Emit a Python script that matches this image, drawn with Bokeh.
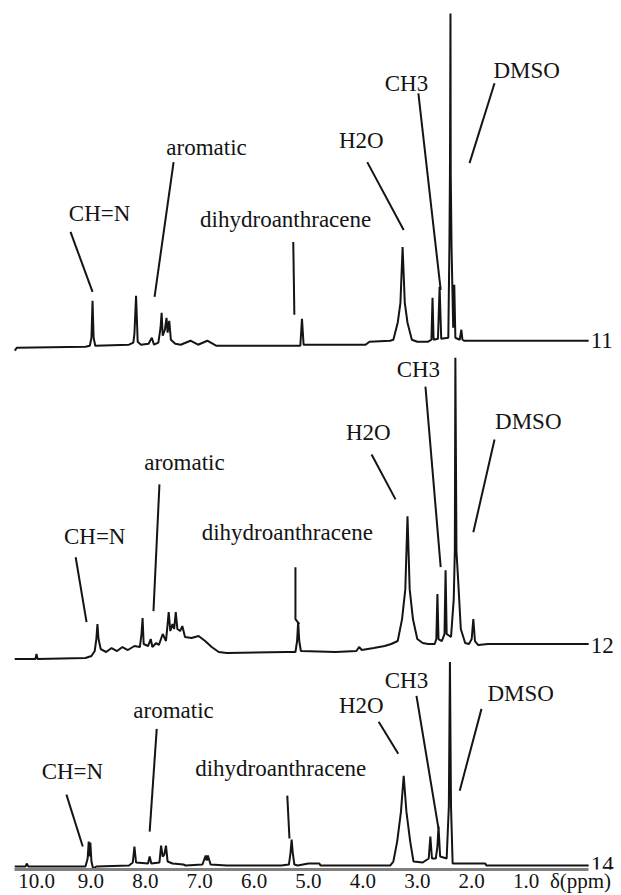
from bokeh.plotting import figure
from bokeh.models import Range1d, FixedTicker, CustomJSTickFormatter, Label
from bokeh.embed import file_html
from bokeh.resources import INLINE
from bokeh.core.properties import value

# ---------------- data (chemical shift in ppm, intensity in arbitrary units) -------------
# spectrum 11
ppm_11 = [10.40, 10.36, 9.10, 9.02, 8.99, 8.97, 8.95, 8.92, 8.30, 8.22, 8.20, 8.17, 8.14, 8.08,
          7.94, 7.88, 7.84, 7.76, 7.72, 7.70, 7.68, 7.64, 7.61, 7.59, 7.56, 7.53, 7.45, 7.35,
          7.17, 7.03, 6.86, 6.70, 6.43, 5.80, 5.15, 5.12, 5.09, 4.40, 3.95, 3.88, 3.50,
          3.44, 3.36, 3.31, 3.27, 3.23, 3.18, 3.10, 3.00, 2.80,
          2.74, 2.72, 2.70, 2.62, 2.59, 2.56, 2.43, 2.41, 2.40, 2.39, 2.385, 2.37, 2.34,
          2.32, 2.30, 2.22, 2.19, 2.17, 2.14, 2.05, -0.15]
int_11 = [-3, 0, 1, 2, 10, 47, 10, 2, 3, 5, 14, 52, 6, 3,
          4, 10, 3, 5, 20, 35, 12, 18, 30, 15, 27, 8, 4, 3,
          7, 3, 7, 2, 2, 2, 2, 29, 3, 3, 3, 6, 7,
          8, 25, 45, 101, 45, 25, 8, 6, 6,
          8, 50, 8, 9, 61, 9, 10, 100, 173, 335, 173, 100, 20,
          63, 10, 8, 18, 8, 7, 7, 7]

# spectrum 12
ppm_12 = [10.40, 10.02, 10.00, 9.98, 9.10, 8.99, 8.93, 8.90, 8.88, 8.86, 8.82, 8.72, 8.62,
          8.52, 8.42, 8.32, 8.20, 8.10, 8.07, 8.05, 8.03, 7.95, 7.90, 7.87, 7.80, 7.75,
          7.68, 7.62, 7.59, 7.57, 7.54, 7.50, 7.47, 7.44, 7.41, 7.36, 7.32, 7.27, 7.15,
          7.02, 6.90, 6.78, 6.65, 6.50, 5.40, 5.24, 5.21, 5.19, 5.17, 5.14, 4.50, 4.12,
          4.07, 4.02, 3.80, 3.60, 3.48, 3.36, 3.28, 3.22, 3.18, 3.14, 3.08, 3.00, 2.90,
          2.80, 2.68, 2.65, 2.63, 2.61, 2.55, 2.50, 2.48, 2.46, 2.38, 2.33, 2.31, 2.30,
          2.28, 2.25, 2.20, 2.12, 2.05, 2.00, 1.97, 1.94, 1.88, 1.70, 1.40, -0.15]
int_12 = [0, 0, 5, 0, 1, 3, 8, 20, 35, 20, 10, 7, 11,
          8, 12, 9, 13, 12, 25, 41, 15, 13, 20, 12, 16, 14,
          25, 18, 35, 47, 28, 35, 30, 47, 30, 28, 33, 22, 21,
          23, 18, 12, 7, 6, 7, 7, 18, 37, 18, 8, 7, 8,
          12, 9, 11, 13, 15, 18, 40, 70, 143, 70, 40, 20, 16,
          15, 15, 20, 65, 20, 18, 25, 89, 25, 22, 60, 108, 302,
          108, 80, 30, 16, 15, 20, 40, 18, 14, 15, 15, 15]

# spectrum 14
ppm_14 = [10.40, 10.20, 10.18, 10.15, 9.10, 9.06, 9.04, 9.02, 9.01, 8.99, 8.96, 8.90, 8.30,
          8.23, 8.20, 8.17, 7.95, 7.92, 7.89, 7.74, 7.71, 7.68, 7.65, 7.62, 7.59, 7.50,
          7.30, 7.26, 6.95, 6.89, 6.87, 6.85, 6.80, 6.50, 5.50, 5.36, 5.33, 5.31, 5.29,
          5.26, 5.20, 5.00, 4.80, 4.78, 3.50, 3.44, 3.37, 3.30, 3.25, 3.20, 3.13, 3.07,
          2.90, 2.79, 2.76, 2.73, 2.66, 2.63, 2.61, 2.58, 2.46, 2.42, 2.40, 2.38, 2.35,
          2.30, 1.75, 1.73, -0.15]
int_14 = [0, 0, 3, 0, 0, 8, 25, 10, 24, 5, -2, 0, 1,
          4, 20, 4, 3, 10, 3, 4, 21, 10, 12, 21, 5, 3,
          2, 1, 2, 11, 6, 11, 2, 1, 1, 2, 14, 27, 14,
          2, 1, 3, 3, 1, 1, 5, 25, 55, 91, 55, 25, 5,
          4, 8, 30, 8, 8, 20, 40, 10, 8, 60, 205, 60, 3,
          3, 3, 1, 1]

tick_ppm = [10.0, 9.0, 8.0, 7.0, 6.0, 5.0, 4.0, 3.0, 2.0, 1.0, 0.0]
peak_names = ["CH=N", "aromatic", "dihydroanthracene", "H2O", "CH3", "DMSO"]
sample_names = ["11", "12", "14"]

# ---------------- layout (positions / styles) ----------------
offsets = [523, 211, 3]
label_pos = [
    [(8.84, 658), (6.875, 724), (5.42, 651), (4.03, 731), (3.20, 788), (0.99, 801)],
    [(8.93, 334), (7.28, 408), (5.39, 338), (3.90, 438), (2.98, 501), (0.96, 449)],
    [(9.34, 98), (7.48, 159), (5.51, 101), (4.03, 164), (3.20, 189), (1.10, 176)],
]
leader_xs = [
    [[9.375, 8.97], [7.48, 7.83], [5.28, 5.26], [3.92, 3.25], [2.98, 2.57], [1.58, 2.04]],
    [[9.28, 9.08], [7.74, 7.85], [5.24, 5.24, 5.17], [3.84, 3.40], [2.85, 2.57], [1.58, 1.97]],
    [[9.45, 9.15], [7.79, 7.92], [5.39, 5.35], [3.71, 3.35], [3.015, 2.61], [1.82, 2.22]],
]
leader_ys = [
    [[639, 579], [709, 574], [629, 556], [709, 641], [778, 581], [788, 708]],
    [[313, 248], [386, 259], [303, 251, 246], [416, 371], [484, 303], [431, 338]],
    [[75, 23], [141, 38], [74, 31], [148, 116], [174, 41], [161, 79]],
]
sample_y = [530, 225, 5]

INK = "#141414"
FONT = "Liberation Serif"

p = figure(width=621, height=895,
           x_range=Range1d(10.662, -0.754), y_range=Range1d(0, 871),
           output_backend="svg", toolbar_location=None,
           y_axis_location=None,
           min_border_left=0, min_border_right=0, min_border_top=0, min_border_bottom=24)
p.grid.visible = False
p.outline_line_color = None
p.background_fill_color = "white"
p.border_fill_color = "white"

xa = p.xaxis[0]
xa.ticker = FixedTicker(ticks=tick_ppm)
xa.formatter = CustomJSTickFormatter(code="return tick == 0 ? 'δ(ppm)' : tick.toFixed(1);")
xa.major_tick_line_color = None
xa.minor_tick_line_color = None
xa.major_tick_out = 0
xa.major_tick_in = 0
xa.major_label_standoff = -1
xa.axis_line_width = 3
xa.axis_line_color = "#808080"
xa.bounds = (min(ppm_14), max(ppm_14))
xa.major_label_text_font = FONT
xa.major_label_text_font_size = "21px"
xa.major_label_text_color = INK

spectra = [(ppm_11, int_11), (ppm_12, int_12), (ppm_14, int_14)]
for k, (xs, ys) in enumerate(spectra):
    off = offsets[k]
    p.line(xs, [off + v for v in ys], line_color=INK, line_width=2)
    p.multi_line(leader_xs[k], leader_ys[k], line_color=INK, line_width=2)
    p.text(x=[pos[0] for pos in label_pos[k]], y=[pos[1] for pos in label_pos[k]],
           text=peak_names, text_font=value(FONT), text_font_size="23px",
           text_color=INK, text_align="center", text_baseline="middle")
    p.add_layout(Label(x=xs[-1], y=sample_y[k], text=sample_names[k], x_offset=2,
                       text_font=FONT, text_font_size="23px", text_color=INK,
                       text_align="left", text_baseline="middle"))

open("out.html", "w").write(file_html(p, INLINE))
